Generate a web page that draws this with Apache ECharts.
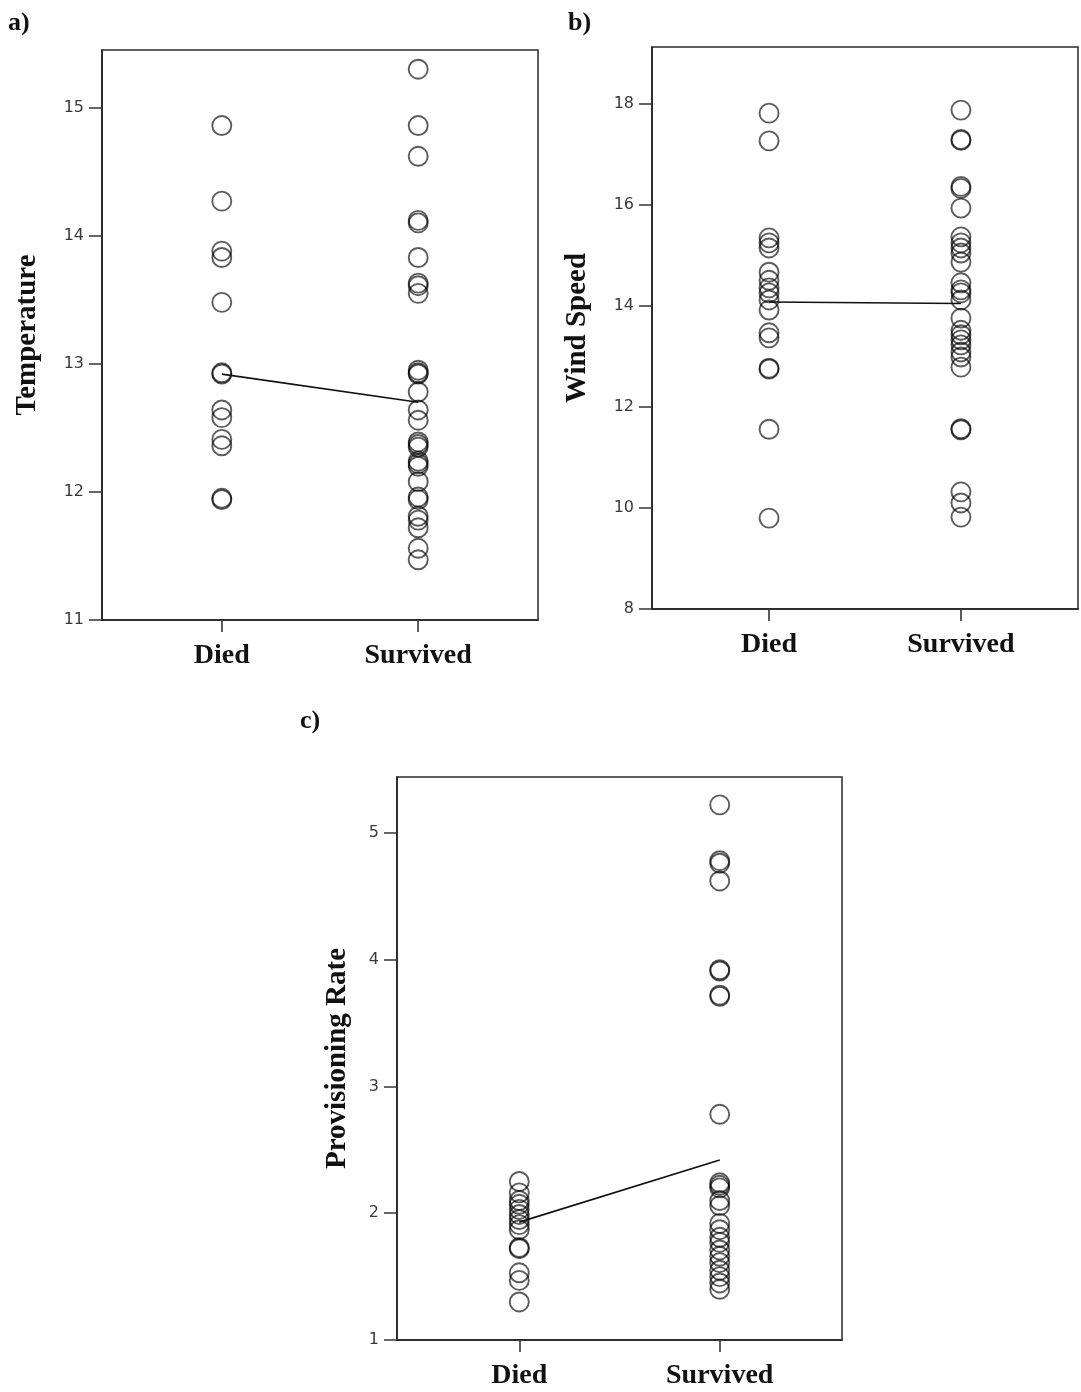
<!DOCTYPE html>
<html>
<head>
<meta charset="utf-8">
<script src="https://cdn.jsdelivr.net/npm/echarts@6/dist/echarts.min.js"></script>
<style>
html,body{margin:0;padding:0;background:#fff;}
#chart{width:1081px;height:1392px;}
</style>
</head>
<body>
<div id="chart"></div>
<script>
// ---- data ----
var categories = ['Died', 'Survived'];

var tempTicks = [11, 12, 13, 14, 15];
var tempDied = [14.86, 14.27, 13.88, 13.83, 13.48, 12.93, 12.92, 12.64, 12.58, 12.41, 12.36, 11.95, 11.94];
var tempSurvived = [15.30, 14.86, 14.62, 14.12, 14.10, 13.83, 13.63, 13.61, 13.55, 12.95, 12.93, 12.92, 12.78,
  12.64, 12.56, 12.39, 12.37, 12.35, 12.24, 12.22, 12.20, 12.08, 11.96, 11.94, 11.81, 11.78, 11.72, 11.56, 11.47];
var tempMeans = [12.92, 12.70];

var windTicks = [8, 10, 12, 14, 16, 18];
var windDied = [17.82, 17.27, 15.35, 15.25, 15.15, 14.67, 14.51, 14.36, 14.26, 14.12, 13.92, 13.47, 13.37,
  12.77, 12.75, 11.56, 9.80];
var windSurvived = [17.88, 17.30, 17.28, 16.37, 16.33, 15.94, 15.37, 15.25, 15.15, 15.05, 14.87, 14.46, 14.32,
  14.26, 14.12, 13.76, 13.52, 13.43, 13.33, 13.23, 13.09, 12.99, 12.79, 11.57, 11.55, 10.32, 10.10, 9.82];
var windMeans = [14.08, 14.05];

var provTicks = [1, 2, 3, 4, 5];
var provDied = [2.25, 2.16, 2.10, 2.07, 2.03, 1.99, 1.95, 1.91, 1.87, 1.73, 1.72, 1.53, 1.47, 1.30];
var provSurvived = [5.22, 4.78, 4.76, 4.62, 3.92, 3.91, 3.72, 3.71, 2.78, 2.24, 2.22, 2.20, 2.10, 2.06, 1.92,
  1.87, 1.81, 1.77, 1.71, 1.66, 1.61, 1.55, 1.50, 1.45, 1.40];
var provMeans = [1.93, 2.42];

// ---- chart construction ----
var serif = '"Liberation Serif", "DejaVu Serif", serif';
var sans = '"DejaVu Sans", sans-serif';

var panels = [
  {name: 'Temperature', ticks: tempTicks, died: tempDied, surv: tempSurvived, means: tempMeans,
   grid: {left: 102, top: 50, width: 436, height: 570}, yMin: 11, yMax: 15.45, nameGap: 60},
  {name: 'Wind Speed', ticks: windTicks, died: windDied, surv: windSurvived, means: windMeans,
   grid: {left: 652, top: 47, width: 426, height: 562}, yMin: 8, yMax: 19.13, nameGap: 60},
  {name: 'Provisioning Rate', ticks: provTicks, died: provDied, surv: provSurvived, means: provMeans,
   grid: {left: 397, top: 777, width: 445, height: 563}, yMin: 1, yMax: 5.44, nameGap: 45}
];

var grids = [], xAxes = [], yAxes = [], series = [];
panels.forEach(function (p, i) {
  grids.push(Object.assign({show: true, borderColor: '#2a2a2a', borderWidth: 1.5, backgroundColor: '#fff'}, p.grid));
  xAxes.push({
    gridIndex: i, type: 'value', min: 0.39, max: 2.61,
    splitLine: {show: false},
    axisLine: {show: true, lineStyle: {color: '#222', width: 1.6}},
    axisTick: {show: true, length: 12, customValues: [1, 2], lineStyle: {color: '#333', width: 1.6}},
    axisLabel: {
      customValues: [1, 2], margin: 22,
      formatter: function (v) { return categories[Math.round(v) - 1] || ''; },
      fontFamily: serif, fontWeight: 'bold', fontSize: 28, color: '#111'
    }
  });
  yAxes.push({
    gridIndex: i, type: 'value', min: p.yMin, max: p.yMax,
    name: p.name, nameLocation: 'middle', nameGap: p.nameGap,
    nameTextStyle: {fontFamily: serif, fontWeight: 'bold', fontSize: 29, color: '#111'},
    splitLine: {show: false},
    axisLine: {show: true, lineStyle: {color: '#222', width: 1.6}},
    axisTick: {show: true, length: 13, customValues: p.ticks, lineStyle: {color: '#333', width: 1.5}},
    axisLabel: {customValues: p.ticks, margin: 18, fontFamily: sans, fontSize: 16, color: '#3a3a3a'}
  });
  var pts = p.died.map(function (v) { return [1, v]; })
    .concat(p.surv.map(function (v) { return [2, v]; }));
  series.push({
    type: 'scatter', xAxisIndex: i, yAxisIndex: i, data: pts,
    symbol: 'circle', symbolSize: 19, silent: true,
    itemStyle: {color: 'rgba(0,0,0,0)', borderColor: 'rgba(0,0,0,0.8)', borderWidth: 1.9}
  });
  series.push({
    type: 'line', xAxisIndex: i, yAxisIndex: i,
    data: p.means.map(function (v, k) { return [k + 1, v]; }),
    showSymbol: false, symbol: 'none', silent: true,
    lineStyle: {color: '#111', width: 1.7}
  });
});

var chart = echarts.init(document.getElementById('chart'), null, {renderer: 'canvas'});
chart.setOption({
  animation: false,
  backgroundColor: '#fff',
  grid: grids, xAxis: xAxes, yAxis: yAxes, series: series,
  graphic: [
    {type: 'text', left: 8, top: 10, style: {text: 'a)', font: 'bold 26px ' + serif, fill: '#111'}},
    {type: 'text', left: 568, top: 10, style: {text: 'b)', font: 'bold 26px ' + serif, fill: '#111'}},
    {type: 'text', left: 300, top: 708, style: {text: 'c)', font: 'bold 26px ' + serif, fill: '#111'}}
  ]
});
</script>
</body>
</html>
